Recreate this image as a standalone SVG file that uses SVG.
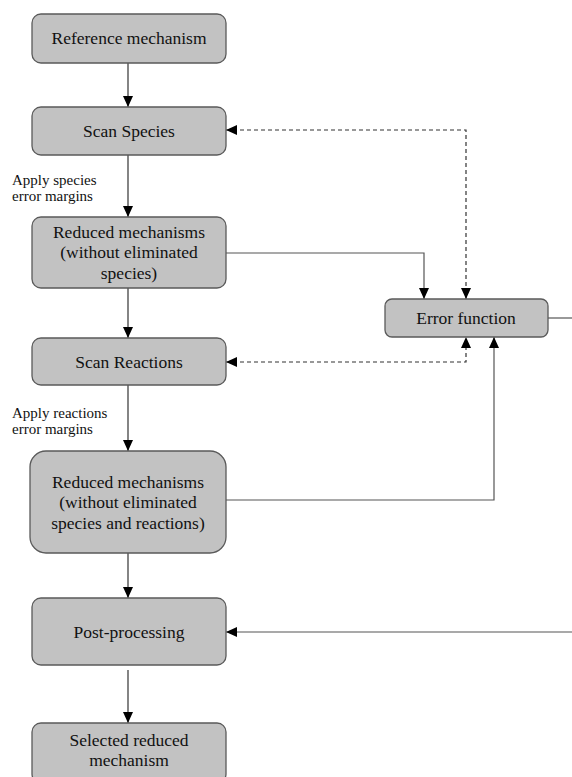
<svg xmlns="http://www.w3.org/2000/svg" width="572" height="777" viewBox="0 0 572 777">
<defs>
<style>
.box{fill:#c2c2c2;stroke:#5a5a5a;stroke-width:1.3}
.t{font-family:"Liberation Serif","Times New Roman",serif;font-size:17.5px;fill:#111;text-anchor:middle}
.lbl{font-family:"Liberation Serif","Times New Roman",serif;font-size:15px;fill:#111}
.c{fill:none;stroke:#333;stroke-width:1.2}
.g{fill:none;stroke:#555;stroke-width:1.2}
.d{fill:none;stroke:#333;stroke-width:1.2;stroke-dasharray:4 3}
</style>
<marker id="ah" markerUnits="userSpaceOnUse" markerWidth="12" markerHeight="12" viewBox="0 0 12 12" refX="11" refY="6" orient="auto-start-reverse">
<path d="M0,1 L11,6 L0,11 Z" fill="#000"/>
</marker>
</defs>
<rect width="572" height="777" fill="#fff"/>
<g id="connectors">
<line class="c" x1="128" y1="63" x2="128" y2="107" marker-end="url(#ah)"/>
<line class="c" x1="128" y1="155" x2="128" y2="217" marker-end="url(#ah)"/>
<line class="c" x1="128" y1="288" x2="128" y2="338" marker-end="url(#ah)"/>
<line class="c" x1="128" y1="385" x2="128" y2="451" marker-end="url(#ah)"/>
<line class="c" x1="128" y1="553" x2="128" y2="598" marker-end="url(#ah)"/>
<line class="c" x1="128" y1="670" x2="128" y2="723" marker-end="url(#ah)"/>
<polyline class="g" points="226,253 424,253 424,299" marker-end="url(#ah)"/>
<polyline class="d" points="226,130 466,130 466,299" marker-start="url(#ah)" marker-end="url(#ah)"/>
<polyline class="d" points="226,362 466,362 466,337" marker-start="url(#ah)" marker-end="url(#ah)"/>
<polyline class="g" points="226,500 494,500 494,337" marker-end="url(#ah)"/>
<line class="g" x1="548" y1="318" x2="572" y2="318"/>
<line class="g" x1="572" y1="632" x2="226" y2="632" marker-end="url(#ah)"/>
</g>
<g id="n_reference">
<rect class="box" x="32" y="14" width="194" height="49" rx="9"/>
<text class="t" x="129" y="44">Reference mechanism</text>
</g>
<g id="n_scan_species">
<rect class="box" x="32" y="107" width="194" height="48" rx="9"/>
<text class="t" x="129" y="137">Scan Species</text>
</g>
<g id="lbl_species">
<text class="lbl" x="12" y="185">Apply species</text>
<text class="lbl" x="12" y="201">error margins</text>
</g>
<g id="n_reduced1">
<rect class="box" x="32" y="217" width="194" height="71" rx="9"/>
<text class="t" x="129" y="238">Reduced mechanisms</text>
<text class="t" x="129" y="258">(without eliminated</text>
<text class="t" x="129" y="279">species)</text>
</g>
<g id="n_scan_reactions">
<rect class="box" x="32" y="338" width="194" height="47" rx="9"/>
<text class="t" x="129" y="368">Scan Reactions</text>
</g>
<g id="lbl_reactions">
<text class="lbl" x="12" y="418">Apply reactions</text>
<text class="lbl" x="12" y="434">error margins</text>
</g>
<g id="n_reduced2">
<rect class="box" x="30" y="451" width="196" height="102" rx="16"/>
<text class="t" x="128" y="488">Reduced mechanisms</text>
<text class="t" x="128" y="508">(without eliminated</text>
<text class="t" x="128" y="529">species and reactions)</text>
</g>
<g id="n_error">
<rect class="box" x="385" y="299" width="163" height="38" rx="7"/>
<text class="t" x="466" y="324">Error function</text>
</g>
<g id="n_post">
<rect class="box" x="32" y="598" width="194" height="67" rx="9"/>
<text class="t" x="129" y="638">Post-processing</text>
</g>
<g id="n_selected">
<rect class="box" x="32" y="723" width="194" height="60" rx="9"/>
<text class="t" x="129" y="746">Selected reduced</text>
<text class="t" x="129" y="766">mechanism</text>
</g>
</svg>
